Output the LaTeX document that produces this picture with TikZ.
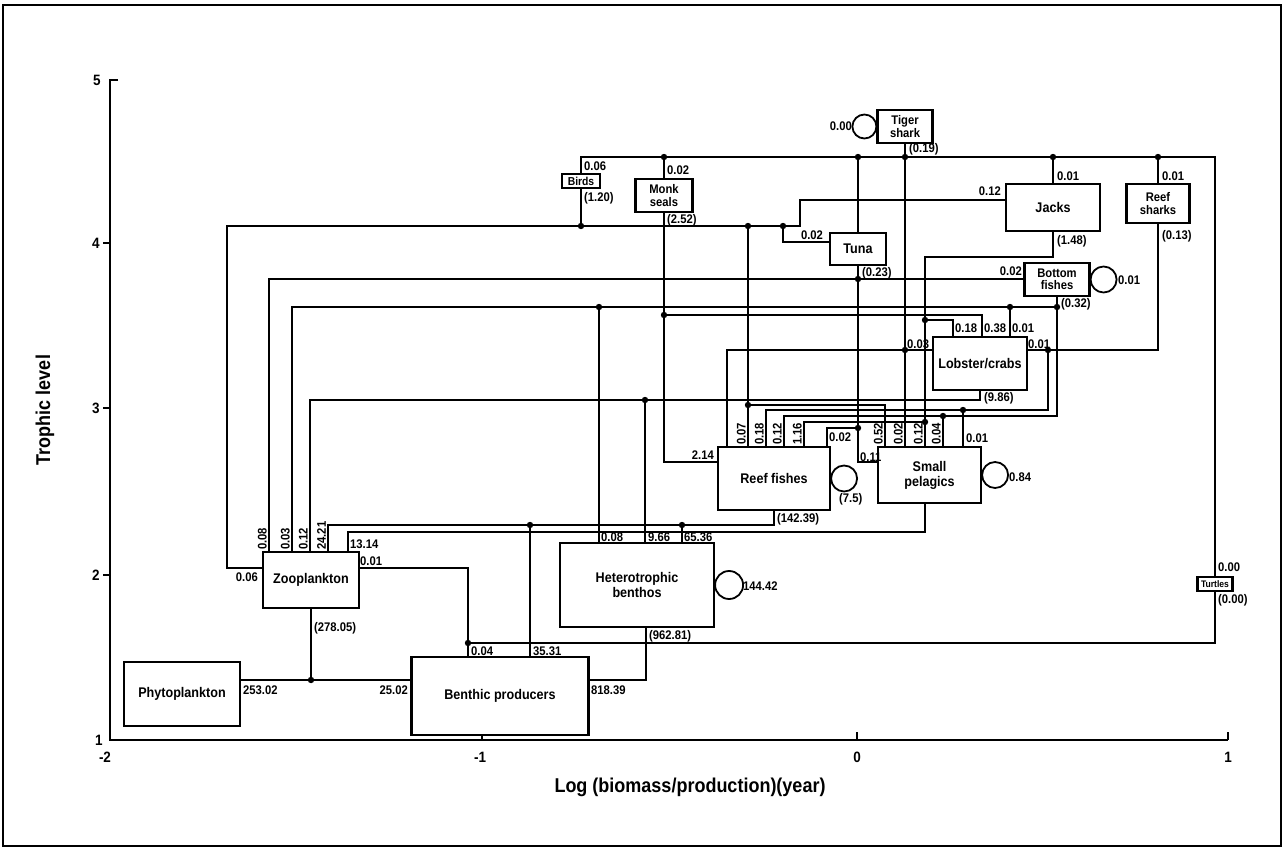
\documentclass[tikz,border=0pt]{standalone}
\usepackage{fontspec}
\setmainfont{Liberation Sans}[FakeStretch=0.9]
\newcommand{\boxfont}{\fontsize{14}{15}\selectfont\bfseries}
\newcommand{\smboxfont}{\fontsize{12.5}{12.5}\selectfont\bfseries}
\newcommand{\labfont}{\fontsize{12.5}{13}\selectfont\bfseries}
\newcommand{\tickfont}{\fontsize{15}{16}\selectfont\bfseries}
\tikzset{
  box/.style={draw, line width=2.2pt, fill=white, align=center, font=\boxfont, inner sep=1pt},
  smbox/.style={box, font=\smboxfont, inner sep=0pt},
  lab/.style={font=\labfont, inner sep=1pt},
  rlab/.style={lab, rotate=90, anchor=south west},
  flow/.style={line width=1.8pt},
  tick/.style={font=\tickfont},
}
\begin{document}
\begin{tikzpicture}[x=1pt,y=-1pt]
\useasboundingbox (0,0) rectangle (1284,856);
% frame and axes
\draw[line width=2.5pt] (3,5) rectangle (1281,846);
\draw[line width=2pt] (118,80) -- (110,80) -- (110,740) -- (1228,740);
\foreach \yy in {243,408,575} \draw[line width=1.8pt] (103,\yy) -- (110,\yy);
\foreach \xx in {482,857,1228} \draw[line width=1.8pt] (\xx,740) -- (\xx,732);
\node[tick] (y5) at (97,80) {5};
\node[tick] (y4) at (96,243) {4};
\node[tick] (y3) at (96,408) {3};
\node[tick] (y2) at (96,575) {2};
\node[tick] (y1) at (99,740) {1};
\node[tick] (xm2) at (105,757) {-2};
\node[tick] (xm1) at (480,757) {-1};
\node[tick] (x0) at (857,757) {0};
\node[tick] (x1) at (1228,757) {1};
\node[font=\fontsize{20}{22}\selectfont\bfseries, rotate=90] (ytitle) at (45,410) {Trophic level};
\node[font=\fontsize{20}{22}\selectfont\bfseries] (xtitle) at (690,787) {Log (biomass/production)(year)};

% compartments
\node[box, minimum width=116, minimum height=64] (phyto) at (182,694) {Phytoplankton};
\node[box, minimum width=96, minimum height=56] (zoo) at (311,580) {Zooplankton};
\node[box, minimum width=177, minimum height=78] (benprod) at (500,696) {Benthic producers};
\node[box, minimum width=154, minimum height=84] (hetben) at (637,585) {Heterotrophic\\benthos};
\node[box, minimum width=112, minimum height=63] (reef) at (774,478.5) {Reef fishes};
\node[box, minimum width=103, minimum height=56] (smallpel) at (929.5,475) {Small\\pelagics};
\node[box, minimum width=94, minimum height=53] (lobster) at (980,363.5) {Lobster/crabs};
\node[smbox, minimum width=65, minimum height=33] (botfish) at (1057,279.5) {Bottom\\fishes};
\node[box, minimum width=94, minimum height=47] (jacks) at (1053,207.5) {Jacks};
\node[smbox, minimum width=63, minimum height=39] (rsharks) at (1158,203.5) {Reef\\sharks};
\node[box, minimum width=56, minimum height=32] (tuna) at (858,249) {Tuna};
\node[smbox, minimum width=57, minimum height=33] (monk) at (664,195.5) {Monk\\seals};
\node[smbox, font=\fontsize{11.5}{12}\selectfont\bfseries, minimum width=38, minimum height=14] (birds) at (581,181) {Birds};
\node[smbox, minimum width=55, minimum height=33] (tiger) at (905,126.5) {Tiger\\shark};
\node[smbox, font=\fontsize{9.5}{10}\selectfont\bfseries, minimum width=35, minimum height=14] (turtles) at (1215,584) {Turtles};

% junctions
\coordinate (tbM) at (664,157);  \coordinate (tbT) at (858,157);
\coordinate (tbS) at (905,157);  \coordinate (tbJ) at (1053,157);
\coordinate (tbR) at (1158,157); \coordinate (tbE) at (1215,157);
\coordinate (bbE) at (1215,643); \coordinate (bb0) at (468,643);
\coordinate (bwB) at (581,226);  \coordinate (bwR) at (748,226);
\coordinate (bwT) at (783,226);
\coordinate (d1) at (599,307);  \coordinate (d2) at (1010,307);
\coordinate (d3) at (1057,307); \coordinate (d4) at (664,315);
\coordinate (d5) at (925,320);  \coordinate (d6) at (858,279);
\coordinate (d7) at (905,350);  \coordinate (d8) at (1048,350);
\coordinate (d9) at (645,400);  \coordinate (d10) at (748,405);
\coordinate (d11) at (963,410); \coordinate (d12) at (943,416);
\coordinate (d13) at (925,422); \coordinate (d14) at (858,428);
\coordinate (d15) at (530,525); \coordinate (d16) at (682,525);
\coordinate (d17) at (311,680);

% top bus
\draw[flow] (birds.north) |- (tbE) -- (turtles.north);
\draw[flow] (turtles.south) -- (bbE) -- (bb0);
\draw[flow] (tbM) -- (monk.north);
\draw[flow] (tbT) -- (tuna.north);
\draw[flow] (tbJ) -- (jacks.north);
\draw[flow] (tbR) -- (rsharks.north);
\draw[flow] (tiger.south) -- (tiger.south |- smallpel.north);

% birds line
\coordinate (zl) at (227,568);
\coordinate (jl) at (800,200);
\draw[flow] (birds.south) -- (bwB);
\draw[flow] (zl -| zoo.west) -- (zl) |- (bwB) -- (800,226) -- (jl) -- (jl -| jacks.west);
\draw[flow] (bwR) -- (bwR |- reef.north);
\coordinate (tl) at (783,242);
\draw[flow] (bwT) -- (tl) -- (tl -| tuna.west);

% outputs of the top predators
\coordinate (sl) at (858,462);
\draw[flow] (tuna.south) -- (sl) -- (sl -| smallpel.west);
\coordinate (rl) at (664,462);
\draw[flow] (monk.south) -- (rl) -- (rl -| reef.west);
\coordinate (jo) at (1053,257);
\coordinate (jo2) at (925,257);
\draw[flow] (jacks.south) -- (jo) -- (jo2) -- (jo2 |- smallpel.north);
\coordinate (rso) at (1158,350);
\draw[flow] (rsharks.south) -- (rso) -- (rso -| lobster.east);
\coordinate (rsl) at (727,350);
\draw[flow] (lobster.west |- rsl) -- (rsl) -- (rsl |- reef.north);
\coordinate (bfo) at (1057,416);
\coordinate (bfo2) at (784,416);
\draw[flow] (botfish.south) -- (bfo) -- (bfo2) -- (bfo2 |- reef.north);

% into reef fishes and small pelagics
\coordinate (e1) at (1048,410);
\coordinate (e2) at (766,410);
\draw[flow] (d8) -- (e1) -- (e2) -- (e2 |- reef.north);
\coordinate (e3) at (804,422);
\draw[flow] (d13) -- (e3) -- (e3 |- reef.north);
\coordinate (e4) at (827,428);
\draw[flow] (d14) -- (e4) -- (e4 |- reef.north);
\coordinate (e5) at (885,405);
\draw[flow] (d10) -- (e5) -- (e5 |- smallpel.north);
\draw[flow] (d11) -- (d11 |- smallpel.north);
\draw[flow] (d12) -- (d12 |- smallpel.north);

% into zooplankton, lobster and benthos
\coordinate (z1) at (269,279);
\draw[flow] (z1 |- zoo.north) -- (z1) -- (z1 -| botfish.west);
\coordinate (z2) at (292,307);
\draw[flow] (z2 |- zoo.north) -- (z2) -- (d3);
\draw[flow] (d1) -- (d1 |- hetben.north);
\draw[flow] (d2) -- (d2 |- lobster.north);
\coordinate (l1) at (982,315);
\draw[flow] (d4) -- (l1) -- (l1 |- lobster.north);
\coordinate (l2) at (953,320);
\draw[flow] (d5) -- (l2) -- (l2 |- lobster.north);
\coordinate (z3) at (310,400);
\coordinate (lo) at (980,400);
\draw[flow] (lobster.south) -- (lo) -- (z3) -- (z3 |- zoo.north);
\draw[flow] (d9) -- (d9 |- hetben.north);
\coordinate (ro) at (774,525);
\coordinate (z4) at (328,525);
\draw[flow] (reef.south) -- (ro) -- (z4) -- (z4 |- zoo.north);
\coordinate (so) at (925,532);
\coordinate (z5) at (348,532);
\draw[flow] (so |- smallpel.south) -- (so) -- (z5) -- (z5 |- zoo.north);
\draw[flow] (d15) -- (d15 |- benprod.north);
\draw[flow] (d16) -- (d16 |- hetben.north);
\coordinate (zr) at (468,568);
\draw[flow] (zr -| zoo.east) -- (zr) -- (zr |- benprod.north);
\draw[flow] (zoo.south) -- (d17);
\coordinate (pl) at (240,680);
\draw[flow] (pl -| phyto.east) -- (pl -| benprod.west);
\coordinate (ho) at (646,680);
\draw[flow] (hetben.south -| ho) -- (ho) -- (ho -| benprod.east);

\foreach \j in {tbM,tbT,tbS,tbJ,tbR,bb0,bwB,bwR,bwT,d1,d2,d3,d4,d5,d6,d7,d8,d9,d10,d11,d12,d13,d14,d15,d16,d17}
  \fill (\j) circle (3.2);

% loops
\draw[flow] (tiger.west) arc[start angle=0, delta angle=360, radius=12pt];
\draw[flow] (botfish.east) arc[start angle=180, delta angle=360, radius=13pt];
\draw[flow] (reef.east) arc[start angle=180, delta angle=360, radius=13pt];
\draw[flow] (smallpel.east) arc[start angle=180, delta angle=360, radius=13pt];
\draw[flow] (hetben.east) arc[start angle=180, delta angle=360, radius=14pt];

% flow values
\node[lab, anchor=west] (nb1) at (583,166) {0.06};
\node[lab, anchor=west] (nb2) at (583,198) {(1.20)};
\node[lab, anchor=west] (nm1) at (666,170) {0.02};
\node[lab, anchor=west] (nm2) at (666,220) {(2.52)};
\node[lab, anchor=east] (nt1) at (853,126) {0.00};
\node[lab, anchor=west] (nt2) at (908,149) {(0.19)};
\node[lab] (nu1) at (812,235) {0.02};
\node[lab, anchor=west] (nu2) at (861,273) {(0.23)};
\node[lab, anchor=west] (nj1) at (1056,176) {0.01};
\node[lab, anchor=west] (nj2) at (1056,241) {(1.48)};
\node[lab, anchor=east] (nj3) at (1002,191) {0.12};
\node[lab, anchor=west] (ns1) at (1161,176) {0.01};
\node[lab, anchor=west] (ns2) at (1161,236) {(0.13)};
\node[lab, anchor=east] (nf1) at (1023,271) {0.02};
\node[lab, anchor=west] (nf2) at (1117,280) {0.01};
\node[lab, anchor=west] (nf3) at (1060,304) {(0.32)};
\node[lab, anchor=west] (nl1) at (954,328) {0.18};
\node[lab, anchor=west] (nl2) at (983,328) {0.38};
\node[lab, anchor=west] (nl3) at (1011,328) {0.01};
\node[lab, anchor=west] (nl4) at (906,344) {0.03};
\node[lab, anchor=west] (nl5) at (1027,344) {0.01};
\node[lab, anchor=west] (nl6) at (983,398) {(9.86)};
\node[rlab] (nr1) at (747,446) {0.07};
\node[rlab] (nr2) at (765,446) {0.18};
\node[rlab] (nr3) at (783,446) {0.12};
\node[rlab] (nr4) at (803,446) {1.16};
\node[lab, anchor=west] (nr5) at (828,437) {0.02};
\node[lab, anchor=east] (nr6) at (715,455) {2.14};
\node[lab, anchor=west] (nr7) at (776,519) {(142.39)};
\node[lab, anchor=west] (nr8) at (838,499) {(7.5)};
\node[rlab] (np1) at (884,446) {0.52};
\node[rlab] (np2) at (904,446) {0.02};
\node[rlab] (np3) at (924,446) {0.12};
\node[rlab] (np4) at (942,446) {0.04};
\node[lab, anchor=west] (np5) at (965,438) {0.01};
\node[lab, anchor=west] (np6) at (859,457) {0.11};
\node[lab, anchor=west] (np7) at (1008,477) {0.84};
\node[lab, anchor=west] (nh1) at (600,537) {0.08};
\node[lab, anchor=west] (nh2) at (647,537) {9.66};
\node[lab, anchor=west] (nh3) at (683,537) {65.36};
\node[lab, anchor=west] (nh4) at (742,586) {144.42};
\node[lab, anchor=west] (nh5) at (648,636) {(962.81)};
\node[rlab] (nz1) at (268,551) {0.08};
\node[rlab] (nz2) at (291,551) {0.03};
\node[rlab] (nz3) at (309,551) {0.12};
\node[rlab] (nz4) at (327,551) {24.21};
\node[lab, anchor=west] (nz5) at (349,544) {13.14};
\node[lab, anchor=east] (nz6) at (259,577) {0.06};
\node[lab, anchor=west] (nz7) at (359,561) {0.01};
\node[lab, anchor=west] (nz8) at (313,628) {(278.05)};
\node[lab, anchor=west] (ne1) at (470,651) {0.04};
\node[lab, anchor=west] (ne2) at (532,651) {35.31};
\node[lab, anchor=east] (ne3) at (409,690) {25.02};
\node[lab, anchor=west] (ne4) at (590,690) {818.39};
\node[lab, anchor=west] (nph) at (242,690) {253.02};
\node[lab, anchor=west] (nw1) at (1217,567) {0.00};
\node[lab, anchor=west] (nw2) at (1217,600) {(0.00)};
\end{tikzpicture}
\end{document}
